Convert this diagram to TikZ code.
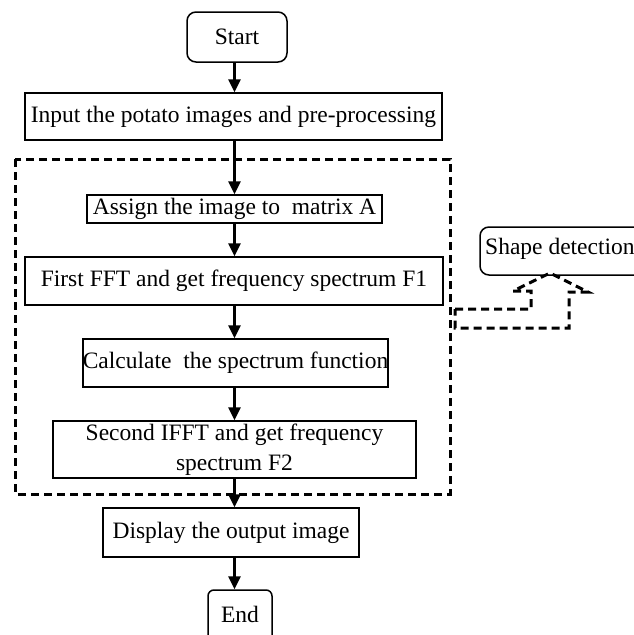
\documentclass[tikz,border=0pt]{standalone}
\usepackage{fontspec}
\setmainfont{Liberation Serif}
\usetikzlibrary{arrows.meta}
\begin{document}
\begin{tikzpicture}[x=1pt,y=-1pt,
  box/.style={draw,line width=1.5pt,inner sep=0pt,align=center,font=\fontsize{23.5}{30}\selectfont},
  rbox/.style={box,rounded corners=9pt},
  arr/.style={line width=2.8pt,-{Triangle[length=13pt,width=12pt]}},
  dsh/.style={line width=3pt,dash pattern=on 8pt off 5pt}]
\clip (0,0) rectangle (634,635);
\fill[white] (0,0) rectangle (634,635);
\coordinate (col) at (234.5,0);
\node[rbox,minimum width=100pt,minimum height=50pt] (start) at (237,37) {Start};
\node[box,minimum width=417pt,minimum height=47pt] (input) at (233.5,116.5) {Input the potato images and pre-processing};
\node[box,minimum width=295pt,minimum height=28pt] (assign) at (234.5,209) {Assign the image to\ \ matrix A};
\node[box,minimum width=418pt,minimum height=48pt] (fft) at (234,281) {First FFT and get frequency spectrum F1};
\node[box,minimum width=305pt,minimum height=48pt] (calc) at (235.5,363) {Calculate\ \ the spectrum function};
\node[box,minimum width=363pt,minimum height=57pt] (ifft) at (234.5,449.5) {Second IFFT and get frequency\\spectrum F2};
\node[box,minimum width=256pt,minimum height=49pt] (disp) at (231,532.5) {Display the output image};
\node[rbox,rounded corners=6pt,minimum width=64pt,minimum height=70pt] (end) at (240,625) {};
\node[font=\fontsize{23.5}{30}\selectfont] (endt) at (240,614) {End};
\node[rbox,minimum width=170pt,minimum height=48pt] (shape) at (565,251) {};
\node[font=\fontsize{23.5}{30}\selectfont,anchor=west,inner sep=0pt] (shapet) at (485,249) {Shape detection};
\draw[arr] (start.south -| col) -- (input.north -| col);
\draw[arr] (input.south -| col) -- (assign.north -| col);
\draw[arr] (assign.south -| col) -- (fft.north -| col);
\draw[arr] (fft.south -| col) -- (calc.north -| col);
\draw[arr] (calc.south -| col) -- (ifft.north -| col);
\draw[arr] (ifft.south -| col) -- (disp.north -| col);
\draw[arr] (disp.south -| col) -- (end.north -| col);
\draw[dsh] (15,159) rectangle (450,494);
\draw[dsh] (455,309) -- (531,309) -- (531,291) -- (513,291) -- (550,273) -- (588,292) -- (569,292) -- (569,328) -- (455,328) -- cycle;
\end{tikzpicture}
\end{document}
